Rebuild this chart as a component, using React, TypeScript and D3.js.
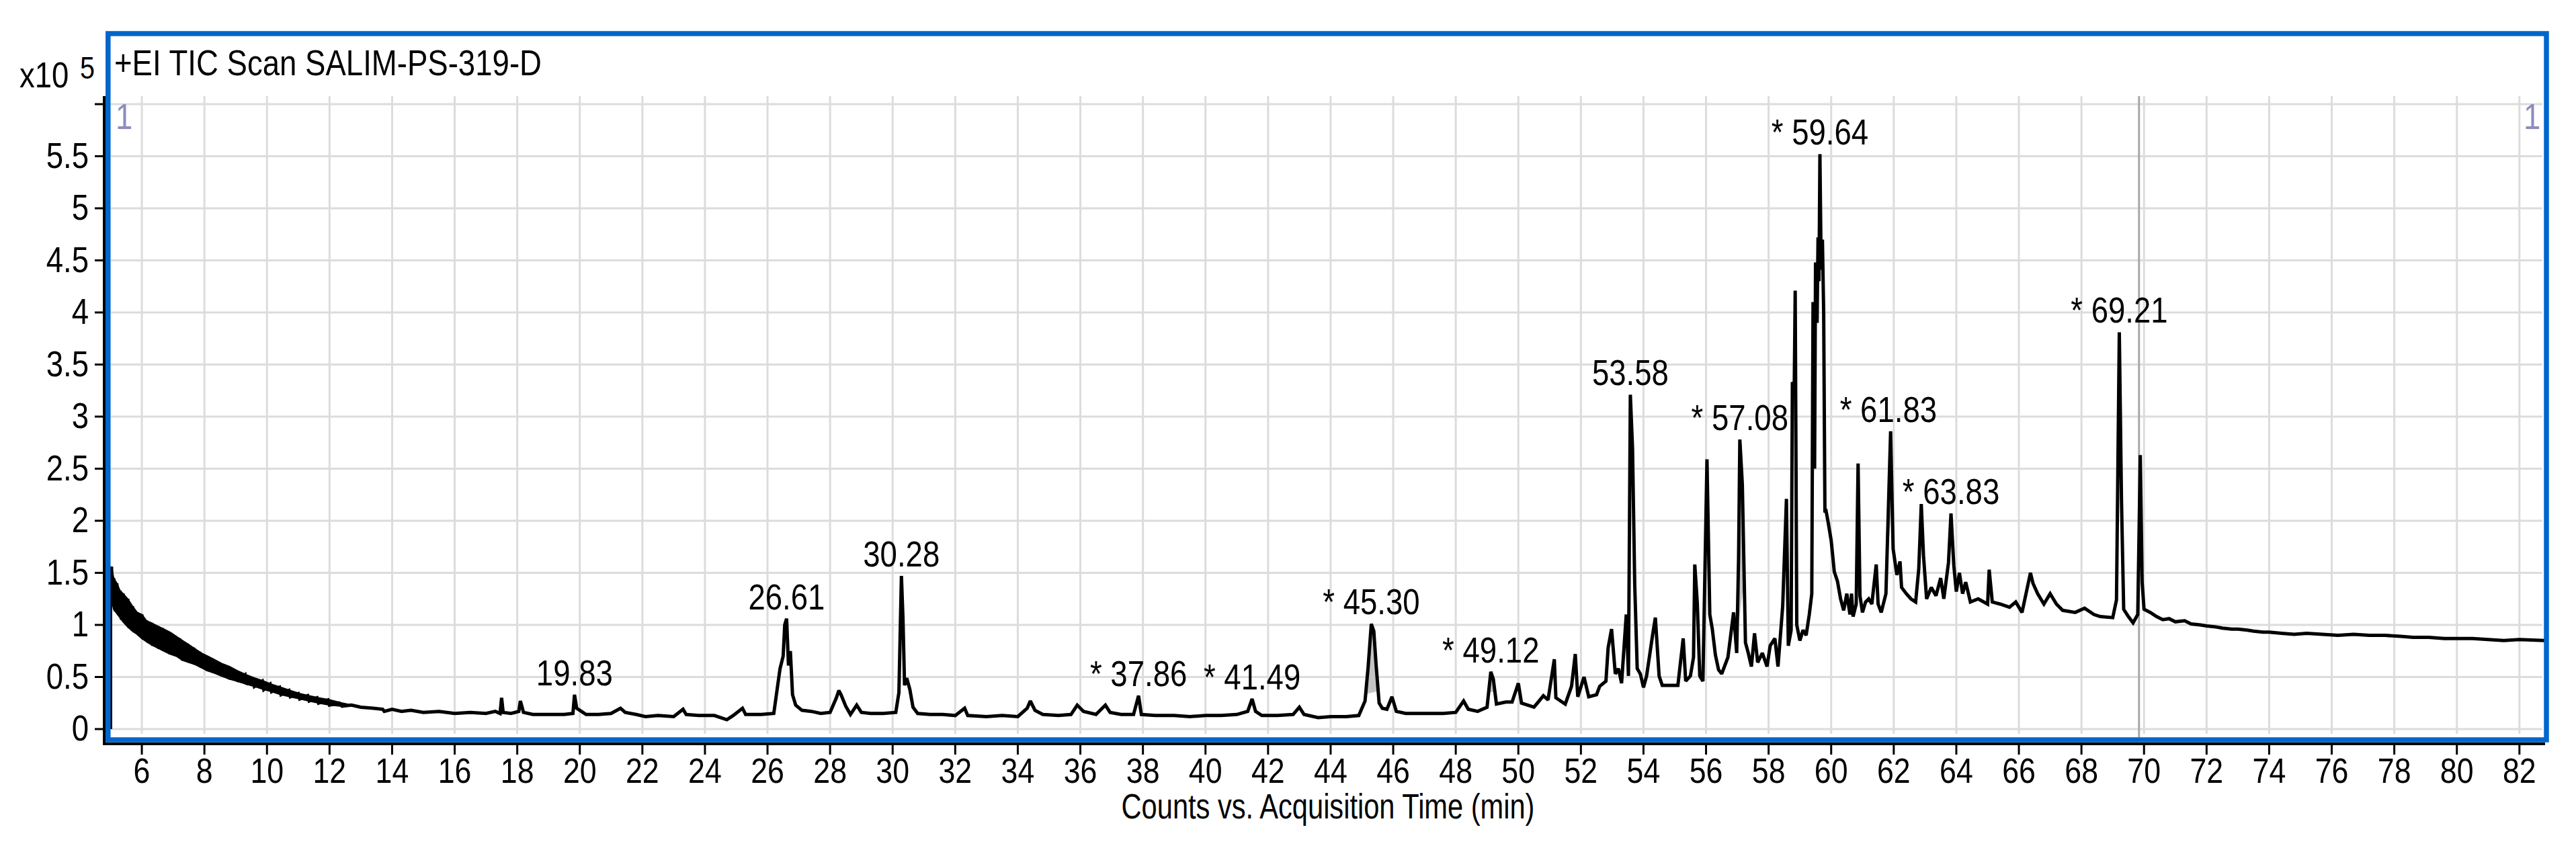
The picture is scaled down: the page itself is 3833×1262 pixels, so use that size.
import React from 'react';
import * as d3 from 'd3';

const W = 3833;
const H = 1262;

// Retention time (min) and TIC counts (x10^5)
const retentionTimes = [
  5.0, 5.0, 5.03, 5.06, 5.1, 5.15, 5.2, 5.25, 5.3, 5.35, 5.4, 5.45, 5.55, 5.6, 5.7, 5.75, 5.85, 5.9,
  6.0, 6.05, 6.15, 6.2, 6.3, 6.35, 6.5, 6.55, 6.65, 6.7, 6.85, 6.9, 7.0, 7.1, 7.2, 7.3, 7.45, 7.5,
  7.65, 7.7, 7.85, 7.9, 8.05, 8.1, 8.25, 8.3, 8.5, 8.55, 8.75, 8.8, 9.0, 9.05, 9.3, 9.35, 9.55, 9.6,
  9.85, 9.9, 10.1, 10.15, 10.4, 10.45, 10.7, 10.75, 11.0, 11.05, 11.3, 11.35, 11.6, 11.65, 11.95, 12.0,
  12.3, 12.4, 12.7, 13.0, 13.4, 13.7, 13.75, 14.0, 14.3, 14.6, 15.0, 15.5, 16.0, 16.5, 17.0, 17.3,
  17.45, 17.5, 17.55, 17.8, 18.05, 18.1, 18.2, 18.5, 19.0, 19.5, 19.78, 19.83, 19.9, 20.0, 20.2, 20.6,
  21.0, 21.3, 21.45, 21.8, 22.1, 22.5, 23.0, 23.3, 23.4, 23.8, 24.3, 24.7, 24.9, 25.2, 25.3, 25.8,
  26.2, 26.4, 26.5, 26.55, 26.61, 26.67, 26.73, 26.8, 26.9, 27.1, 27.4, 27.7, 28.0, 28.2, 28.28, 28.35,
  28.5, 28.65, 28.85, 29.0, 29.3, 29.7, 30.1, 30.2, 30.28, 30.33, 30.38, 30.45, 30.55, 30.65, 30.8, 31.2,
  31.6, 32.0, 32.3, 32.4, 33.0, 33.5, 34.0, 34.3, 34.4, 34.55, 34.8, 35.3, 35.7, 35.9, 36.1, 36.5,
  36.8, 36.95, 37.3, 37.7, 37.86, 37.95, 38.4, 39.0, 39.5, 40.0, 40.5, 41.0, 41.35, 41.49, 41.6, 41.8,
  42.3, 42.8, 43.0, 43.15, 43.6, 44.0, 44.5, 44.9, 45.1, 45.2, 45.3, 45.38, 45.45, 45.55, 45.65, 45.8,
  45.96, 46.1, 46.4, 47.0, 47.6, 48.0, 48.25, 48.4, 48.7, 49.0, 49.12, 49.2, 49.3, 49.6, 49.8, 50.0,
  50.1, 50.5, 50.8, 50.95, 51.15, 51.2, 51.5, 51.7, 51.82, 51.9, 52.1, 52.25, 52.5, 52.6, 52.8, 52.87,
  52.98, 53.1, 53.2, 53.3, 53.45, 53.52, 53.58, 53.65, 53.72, 53.8, 53.9, 54.0, 54.1, 54.3, 54.38, 54.5,
  54.6, 54.8, 55.1, 55.27, 55.35, 55.5, 55.6, 55.64, 55.72, 55.8, 55.9, 56.03, 56.12, 56.2, 56.3, 56.4,
  56.5, 56.7, 56.88, 56.98, 57.04, 57.08, 57.16, 57.26, 57.35, 57.45, 57.55, 57.65, 57.8, 57.95, 58.05, 58.2,
  58.3, 58.45, 58.57, 58.63, 58.72, 58.76, 58.82, 58.85, 58.9, 59.0, 59.1, 59.2, 59.3, 59.38, 59.42, 59.47,
  59.5, 59.55, 59.58, 59.61, 59.64, 59.68, 59.72, 59.76, 59.8, 59.84, 59.9, 60.0, 60.1, 60.2, 60.3, 60.4,
  60.5, 60.6, 60.65, 60.7, 60.8, 60.86, 60.92, 61.0, 61.1, 61.2, 61.3, 61.44, 61.5, 61.6, 61.75, 61.83,
  61.9, 61.98, 62.1, 62.2, 62.25, 62.4, 62.55, 62.7, 62.8, 62.88, 62.95, 63.05, 63.2, 63.35, 63.5, 63.6,
  63.75, 63.83, 63.92, 64.0, 64.1, 64.2, 64.3, 64.45, 64.7, 65.0, 65.05, 65.15, 65.4, 65.7, 65.9, 66.1,
  66.37, 66.45, 66.6, 66.8, 67.0, 67.2, 67.4, 67.8, 68.1, 68.4, 68.6, 69.0, 69.12, 69.21, 69.28, 69.35,
  69.5, 69.65, 69.8, 69.88, 69.94, 70.0, 70.2, 70.4, 70.6, 70.8, 71.0, 71.3, 71.5, 71.8, 72.0, 72.3,
  72.5, 72.8, 73.0, 73.3, 73.5, 73.8, 74.0, 74.4, 74.8, 75.2, 75.7, 76.2, 76.7, 77.2, 77.7, 78.2,
  78.6, 79.1, 79.6, 80.0, 80.5, 81.0, 81.5, 82.0, 82.8,
];

const ticCounts = [
  0.0, 1.5, 1.56, 1.2, 1.45, 1.13, 1.4, 1.1, 1.33, 1.05, 1.3, 1.02, 1.25, 0.97, 1.18, 0.93, 1.12, 0.9,
  1.1, 0.86, 1.04, 0.83, 1.02, 0.8, 0.99, 0.77, 0.97, 0.75, 0.93, 0.72, 0.9, 0.7, 0.87, 0.66, 0.82, 0.64,
  0.78, 0.62, 0.74, 0.59, 0.7, 0.56, 0.67, 0.54, 0.63, 0.51, 0.6, 0.48, 0.56, 0.46, 0.52, 0.43, 0.49, 0.41,
  0.46, 0.38, 0.43, 0.36, 0.4, 0.33, 0.37, 0.31, 0.34, 0.29, 0.32, 0.27, 0.3, 0.25, 0.28, 0.23,
  0.25, 0.22, 0.23, 0.21, 0.2, 0.19, 0.17, 0.19, 0.17, 0.18, 0.16, 0.17, 0.15, 0.16, 0.15, 0.17,
  0.15, 0.3, 0.16, 0.15, 0.17, 0.27, 0.16, 0.14, 0.14, 0.14, 0.15, 0.33, 0.2, 0.18, 0.14, 0.14,
  0.15, 0.2, 0.16, 0.14, 0.12, 0.13, 0.12, 0.19, 0.14, 0.13, 0.13, 0.09, 0.13, 0.2, 0.14, 0.14,
  0.15, 0.58, 0.7, 1.0, 1.06, 0.61, 0.75, 0.33, 0.23, 0.18, 0.17, 0.15, 0.16, 0.3, 0.37, 0.33,
  0.22, 0.14, 0.23, 0.16, 0.15, 0.15, 0.16, 0.35, 1.47, 1.06, 0.42, 0.49, 0.38, 0.21, 0.15, 0.14,
  0.14, 0.13, 0.2, 0.13, 0.12, 0.13, 0.12, 0.2, 0.27, 0.18, 0.14, 0.13, 0.14, 0.23, 0.17, 0.14,
  0.23, 0.16, 0.14, 0.14, 0.32, 0.14, 0.13, 0.13, 0.12, 0.13, 0.13, 0.14, 0.17, 0.29, 0.17, 0.13,
  0.13, 0.14, 0.21, 0.14, 0.11, 0.12, 0.12, 0.13, 0.27, 0.6, 1.01, 0.94, 0.63, 0.25, 0.2, 0.19,
  0.31, 0.17, 0.15, 0.15, 0.15, 0.16, 0.27, 0.19, 0.17, 0.21, 0.55, 0.48, 0.24, 0.26, 0.26, 0.44,
  0.25, 0.21, 0.32, 0.28, 0.67, 0.3, 0.24, 0.41, 0.72, 0.31, 0.5, 0.31, 0.33, 0.41, 0.46, 0.78,
  0.96, 0.53, 0.58, 0.44, 1.1, 0.51, 3.21, 2.7, 1.39, 0.58, 0.53, 0.4, 0.51, 0.92, 1.07, 0.51,
  0.42, 0.42, 0.42, 0.87, 0.46, 0.51, 0.69, 1.58, 1.21, 0.51, 0.46, 2.59, 1.1, 0.96, 0.71, 0.57,
  0.53, 0.69, 1.12, 0.73, 1.64, 2.78, 2.35, 0.83, 0.73, 0.6, 0.92, 0.64, 0.73, 0.6, 0.8, 0.87,
  0.6, 1.18, 2.21, 0.8, 0.95, 3.33, 3.3, 4.21, 1.0, 0.85, 0.95, 0.9, 1.1, 1.3, 4.1, 2.5,
  4.48, 3.9, 4.72, 4.3, 5.52, 4.41, 4.7, 4.0, 2.08, 2.09, 1.99, 1.81, 1.51, 1.42, 1.25, 1.14,
  1.3, 1.1, 1.3, 1.08, 1.2, 2.55, 1.28, 1.12, 1.22, 1.25, 1.2, 1.58, 1.2, 1.12, 1.3, 2.13,
  2.86, 1.73, 1.48, 1.61, 1.36, 1.3, 1.25, 1.22, 1.54, 2.16, 1.67, 1.25, 1.36, 1.28, 1.45, 1.25,
  1.6, 2.07, 1.57, 1.32, 1.5, 1.3, 1.41, 1.22, 1.25, 1.2, 1.53, 1.22, 1.2, 1.17, 1.22, 1.12,
  1.5, 1.4, 1.3, 1.2, 1.3, 1.2, 1.14, 1.12, 1.16, 1.1, 1.08, 1.07, 1.24, 3.81, 2.19, 1.15,
  1.08, 1.02, 1.1, 2.63, 1.41, 1.15, 1.12, 1.08, 1.05, 1.06, 1.03, 1.04, 1.01, 1.0, 0.99, 0.98,
  0.97, 0.96, 0.96, 0.95, 0.94, 0.93, 0.93, 0.92, 0.91, 0.92, 0.91, 0.9, 0.91, 0.9, 0.9, 0.89,
  0.88, 0.88, 0.87, 0.87, 0.87, 0.86, 0.85, 0.86, 0.85,
];

// Noise envelope of the early solvent-tail decay (x10^5)
const decayTimes = [
  5.0, 5.03, 5.1, 5.2, 5.3, 5.4, 5.55, 5.7, 5.85, 6.0, 6.15, 6.3, 6.5, 6.7, 6.9, 7.1, 7.3, 7.5, 7.7,
  7.9, 8.1, 8.3, 8.55, 8.8, 9.05, 9.35, 9.6, 9.9, 10.15, 10.45, 10.75, 11.05, 11.35, 11.65, 12.0, 12.4, 12.7,
];
const decayUpper = [
  1.5, 1.56, 1.45, 1.4, 1.33, 1.3, 1.25, 1.18, 1.12, 1.1, 1.04, 1.02, 0.99, 0.96, 0.93, 0.89, 0.85, 0.81, 0.77,
  0.73, 0.7, 0.67, 0.63, 0.6, 0.56, 0.52, 0.49, 0.46, 0.43, 0.4, 0.37, 0.34, 0.32, 0.3, 0.28, 0.25, 0.23,
];
const decayLower = [
  1.22, 1.25, 1.15, 1.11, 1.07, 1.03, 0.98, 0.94, 0.91, 0.87, 0.84, 0.81, 0.78, 0.75, 0.72, 0.7, 0.66, 0.64, 0.62,
  0.59, 0.56, 0.54, 0.51, 0.48, 0.46, 0.43, 0.41, 0.38, 0.36, 0.33, 0.31, 0.29, 0.27, 0.25, 0.23, 0.22, 0.23,
];

// Integrated (shaded) peak windows, min
const integratedStart = [45.12, 49.05, 56.99, 61.78, 69.85];
const integratedEnd = [45.52, 49.25, 57.22, 61.95, 69.96];

const xTickValues = d3.range(6, 83, 2);
const yTickValues = d3.range(0, 6.01, 0.5);
const yTickLabels = ['0', '0.5', '1', '1.5', '2', '2.5', '3', '3.5', '4', '4.5', '5', '5.5', ''];

const peakTimes = [19.83, 26.61, 30.28, 37.86, 41.49, 45.3, 49.12, 53.58, 57.08, 59.64, 61.83, 63.83, 69.21];
const peakTexts = ['19.83', '26.61', '30.28', '37.86', '41.49', '45.30', '49.12', '53.58', '57.08', '59.64', '61.83', '63.83', '69.21'];
const peakStarred = [false, false, false, true, true, true, true, false, true, true, true, true, true];

const titleText = '+EI TIC Scan SALIM-PS-319-D';
const xAxisTitle = 'Counts vs. Acquisition Time (min)';
const scaleText = 'x10';
const scaleExp = '5';
const markerTime = 69.84;

const FONT = "'Liberation Sans', Arial, sans-serif";

function NText(props: {
  x: number; y: number; anchor?: string; size?: number; sx?: number; fill?: string; children: React.ReactNode;
}) {
  const { x, y, anchor = 'start', size = 53, sx = 0.86, fill = '#000', children } = props;
  return (
    <g transform={`translate(${x},${y}) scale(${sx},1)`}>
      <text x={0} y={0} textAnchor={anchor as any} fontSize={size} fontFamily={FONT} fill={fill}>
        {children}
      </text>
    </g>
  );
}

export default function App() {
  const x = d3.scaleLinear().domain([5.0, 82.82]).range([164.5, 3787]);
  const y = d3.scaleLinear().domain([0, 6]).range([1085, 155]);

  const pts: [number, number][] = retentionTimes.map((t, i) => [t, ticCounts[i]]);
  const line = d3
    .line<[number, number]>()
    .x((d) => x(d[0]))
    .y((d) => y(d[1]));

  const band = d3
    .area<number>()
    .x((t) => x(t))
    .y0((_, i) => y(decayLower[i]))
    .y1((_, i) => y(decayUpper[i]));

  const valueAt = (t: number) => {
    const i = d3.bisectLeft(retentionTimes, t);
    if (i <= 0) return ticCounts[0];
    if (i >= retentionTimes.length) return ticCounts[ticCounts.length - 1];
    const t0 = retentionTimes[i - 1];
    const t1 = retentionTimes[i];
    const f = t1 === t0 ? 0 : (t - t0) / (t1 - t0);
    return ticCounts[i - 1] + f * (ticCounts[i] - ticCounts[i - 1]);
  };

  const shades = integratedStart.map((s, k) => {
    const e = integratedEnd[k];
    const inner = pts.filter(([t]) => t > s && t < e);
    const top: [number, number][] = [[s, valueAt(s)], ...inner, [e, valueAt(e)]];
    const vs = valueAt(s);
    const ve = valueAt(e);
    const bottom: [number, number][] = [[e, ve], [s, vs]];
    const poly = [...top, ...bottom].map(([t, v]) => `${x(t)},${y(v)}`).join(' ');
    return poly;
  });

  const apexOf = (t: number) => {
    let best = 0;
    pts.forEach(([pt, v]) => {
      if (Math.abs(pt - t) <= 0.08 && v > best) best = v;
    });
    return best;
  };

  const gridTop = 143;
  const grid = '#dcdcdc';

  return (
    <svg
      width={W}
      height={H}
      viewBox={`0 0 ${W} ${H}`}
      style={{ position: 'absolute', left: 0, top: 0, background: '#fff' }}
    >
      <rect x={0} y={0} width={W} height={H} fill="#fff" />

      {/* gridlines */}
      {xTickValues.map((t) => (
        <line key={'vg' + t} x1={x(t)} x2={x(t)} y1={gridTop} y2={1092} stroke={grid} strokeWidth={3} />
      ))}
      {yTickValues.map((v) => (
        <line key={'hg' + v} x1={165} x2={3783} y1={y(v)} y2={y(v)} stroke={grid} strokeWidth={3} />
      ))}

      {/* marker line */}
      <line x1={x(markerTime)} x2={x(markerTime)} y1={gridTop} y2={1097} stroke="#a8a8a8" strokeWidth={3} />

      {/* integrated peak shading */}
      {shades.map((p, k) => (
        <polygon key={'sh' + k} points={p} fill="#c4c4c4" stroke="none" />
      ))}

      {/* noise band + trace */}
      <path d={band(decayTimes) || ''} fill="#000" stroke="#000" strokeWidth={2} />
      <path d={line(pts) || ''} fill="none" stroke="#000" strokeWidth={5} strokeLinejoin="miter" strokeMiterlimit={2} />

      {/* frame */}
      <rect x={160.8} y={50} width={3789 - 160.8} height={1101 - 50} fill="none" stroke="#0066cc" strokeWidth={7.5} />

      {/* axes */}
      <line x1={155} x2={155} y1={gridTop} y2={1109} stroke="#000" strokeWidth={4} />
      <line x1={153} x2={3787} y1={1107} y2={1107} stroke="#000" strokeWidth={4} />
      {yTickValues.map((v) => (
        <line key={'yt' + v} x1={141} x2={155} y1={y(v)} y2={y(v)} stroke="#000" strokeWidth={3} />
      ))}
      {xTickValues.map((t) => (
        <line key={'xt' + t} x1={x(t)} x2={x(t)} y1={1107} y2={1123} stroke="#000" strokeWidth={3} />
      ))}

      {/* tick labels */}
      {yTickValues.map((v, i) =>
        yTickLabels[i] ? (
          <NText key={'yl' + v} x={132} y={y(v) + 17} anchor="end">
            {yTickLabels[i]}
          </NText>
        ) : null
      )}
      {xTickValues.map((t) => (
        <NText key={'xl' + t} x={x(t)} y={1165} anchor="middle" size={52}>
          {String(t)}
        </NText>
      ))}

      {/* axis title */}
      <NText x={1976} y={1218} anchor="middle" sx={0.8} size={52}>
        {xAxisTitle}
      </NText>

      {/* exponent */}
      <NText x={29} y={130}>{scaleText}</NText>
      <NText x={119} y={117} size={46}>{scaleExp}</NText>

      {/* title */}
      <NText x={170} y={112}>{titleText}</NText>

      {/* "1" markers */}
      <NText x={172} y={192} fill="#8c8cc0">1</NText>
      <NText x={3755} y={192} fill="#8c8cc0">1</NText>

      {/* peak labels */}
      {peakTimes.map((t, i) => (
        <NText key={'pk' + t} x={x(t)} y={y(apexOf(t)) - 14} anchor="middle">
          {peakStarred[i] ? '* ' + peakTexts[i] : peakTexts[i]}
        </NText>
      ))}
    </svg>
  );
}
